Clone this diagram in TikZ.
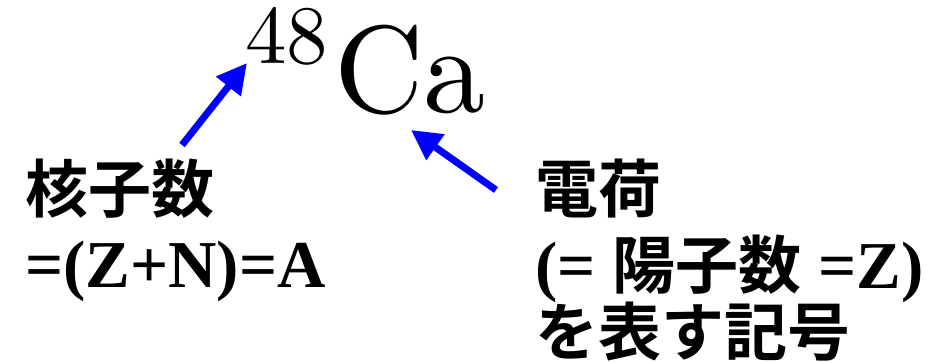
\documentclass[tikz,border=0pt]{standalone}
\usepackage{fontspec}
\newfontfamily\lm{lmroman10-regular}[Extension=.otf]
\newfontfamily\tb{Liberation Serif Bold}
\newfontfamily\jpface{Noto Sans CJK JP Bold}
\newcommand{\jp}{\jpface\fontsize{63}{68}\selectfont}
\setlength{\lineskiplimit}{-100pt}
\usetikzlibrary{arrows.meta}

\begin{document}
\begin{tikzpicture}[x=1pt, y=1pt,
    lbl/.style={inner sep=0pt, align=left, font=\tb\fontsize{67}{68}\selectfont},
    ptr/.style={blue, line width=7pt, -{Triangle[length=30pt, width=30pt]}}]
  \useasboundingbox (0,0) rectangle (936,363);
  % symbol
  \node[inner sep=0pt, anchor=base west, font=\lm\fontsize{124}{124}\selectfont] (iso) at (245,250)
    {\raisebox{49pt}[0pt][0pt]{\fontsize{83}{83}\selectfont 48}\hspace{6pt}Ca};
  % labels
  \node[lbl, anchor=north west] (mass) at (25,204) {{\jp 核子数}\\[7pt]=(Z+N)=A};
  \node[lbl, anchor=north west] (charge) at (535,204) {{\jp 電荷}\\[8pt](= {\jp 陽子数} =Z)\\[-1pt]{\jp を表す記号}};
  % arrows
  \coordinate (massTail) at (182,218);
  \coordinate (massTip) at (247,300);
  \coordinate (chargeTail) at (496,173);
  \coordinate (chargeTip) at (411,233);
  \draw[ptr] (massTail) -- (massTip);
  \draw[ptr] (chargeTail) -- (chargeTip);
\end{tikzpicture}
\end{document}
